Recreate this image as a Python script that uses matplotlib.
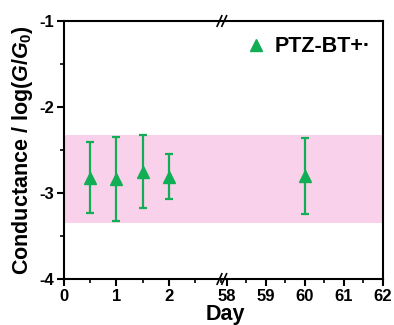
import matplotlib
matplotlib.use('Agg')
import matplotlib.pyplot as plt
from matplotlib.ticker import MultipleLocator
from matplotlib.lines import Line2D

# ---- data ----
days_left = [0.5, 1.0, 1.5, 2.0]
cond_left = [-2.82, -2.84, -2.75, -2.81]
err_left = [0.41, 0.49, 0.42, 0.26]
days_right = [60]
cond_right = [-2.80]
err_right = [0.44]
band_low, band_high = -3.35, -2.32
left_ticks = [0, 1, 2]
right_ticks = [58, 59, 60, 61, 62]
legend_label = 'PTZ-BT+·'

green = '#12AE55'
pink = '#F9D1EB'

plt.rcParams['font.family'] = ['Liberation Sans', 'DejaVu Sans']
plt.rcParams['font.weight'] = 'bold'
plt.rcParams['axes.unicode_minus'] = False
plt.rcParams['mathtext.fontset'] = 'custom'
plt.rcParams['mathtext.rm'] = 'Liberation Sans:bold'
plt.rcParams['mathtext.it'] = 'Liberation Sans:bold:italic'
plt.rcParams['mathtext.bf'] = 'Liberation Sans:bold'

fig = plt.figure(figsize=(3.94, 3.25), dpi=100)
L, B, H = 64/394, 46/325, 258/325
brk = 225/394
R = 383/394
ax1 = fig.add_axes([L, B, brk - L, H])
ax2 = fig.add_axes([brk, B, R - brk, H], sharey=ax1)

for ax in (ax1, ax2):
    ax.axhspan(band_low, band_high, color=pink, lw=0, zorder=0)
    ax.set_ylim(-4, -1)
    for s in ax.spines.values():
        s.set_linewidth(1.5)
    ax.tick_params(which='major', direction='out', length=5, width=1.5, labelsize=12, pad=2)
    ax.tick_params(which='minor', direction='out', length=3, width=1.2)
    ax.xaxis.set_minor_locator(MultipleLocator(0.5))

ax1.errorbar(days_left, cond_left, yerr=err_left, fmt='^', color=green, ms=8,
             elinewidth=1.6, capsize=2.6, capthick=1.6, zorder=3)
ax2.errorbar(days_right, cond_right, yerr=err_right, fmt='^', color=green, ms=8,
             elinewidth=1.6, capsize=2.6, capthick=1.6, zorder=3)

ax1.set_xlim(0, 3.07)
ax2.set_xlim(57.95, 62)
ax1.set_xticks(left_ticks)
ax2.set_xticks(right_ticks)
ax1.set_yticks([-4, -3, -2, -1])
ax1.yaxis.set_minor_locator(MultipleLocator(0.5))
ax1.spines['right'].set_visible(False)
ax2.spines['left'].set_visible(False)
ax2.tick_params(axis='y', which='both', left=False, labelleft=False)

ax1.set_ylabel(r'Conductance / log($G/G_0$)', fontsize=15.5, fontweight='bold', labelpad=3)
fig.text(225/394, 1 - 320/325, 'Day', fontsize=15.5, fontweight='bold', ha='center', va='baseline')

# break marks
for yy in (0, 1):
    for dx in (-0.012, 0.0):
        fig.lines.append(Line2D([brk + dx - 0.008, brk + dx + 0.004],
                                [B + yy * H - 0.016, B + yy * H + 0.016],
                                color='black', lw=1.2, transform=fig.transFigure))

handle = Line2D([], [], marker='^', ls='none', color=green, ms=8)
ax2.legend([handle], [legend_label], loc='upper right', frameon=False,
           handletextpad=0.3, handlelength=1.2, borderaxespad=0.3,
           bbox_to_anchor=(1.02, 1.0), prop={'weight': 'bold', 'size': 15.5})

fig.savefig('out.png', dpi=100)
